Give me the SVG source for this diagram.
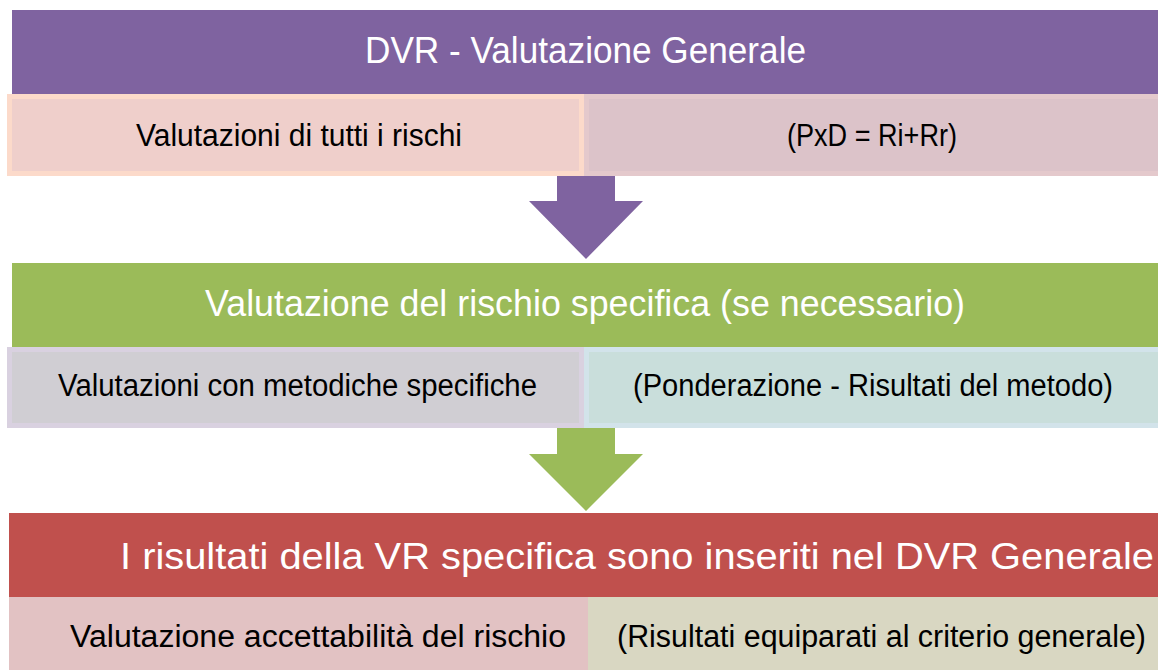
<svg xmlns="http://www.w3.org/2000/svg" width="1158" height="670" viewBox="0 0 1158 670">
<style>
text { font-family: "Liberation Sans", Arial, sans-serif; }
.title { fill: #FFFFFF; font-size: 37px; }
.cell { fill: #000000; font-size: 31px; }
.purple { fill: #7F63A0; }
.green { fill: #9BBB59; }
.red { fill: #C0504D; }
</style>
<rect width="1158" height="670" fill="#FFFFFF"/>
<g id="node-dvr-generale">
  <rect class="purple" x="12" y="10" width="1146" height="84"/>
  <text class="title" x="365" y="63" textLength="441" lengthAdjust="spacingAndGlyphs">DVR - Valutazione Generale</text>
</g>
<g id="node-valutazioni-tutti">
  <rect x="9.5" y="96.5" width="572" height="77" fill="#EFCFCB" stroke="#FCDACA" stroke-width="5"/>
  <text class="cell" x="136" y="146" textLength="326" lengthAdjust="spacingAndGlyphs">Valutazioni di tutti i rischi</text>
</g>
<g id="node-pxd">
  <rect x="586.5" y="96.5" width="575" height="77" fill="#DCC3C9" stroke="#E4C9CC" stroke-width="5"/>
  <text class="cell" x="787" y="146" textLength="170" lengthAdjust="spacingAndGlyphs">(PxD = Ri+Rr)</text>
</g>
<g id="node-vr-specifica">
  <rect class="green" x="12" y="263" width="1146" height="84"/>
  <text class="title" x="205" y="316" textLength="760" lengthAdjust="spacingAndGlyphs">Valutazione del rischio specifica (se necessario)</text>
</g>
<g id="node-metodiche">
  <rect x="9.5" y="349.5" width="572" height="76" fill="#D0CED3" stroke="#D9D1E0" stroke-width="5"/>
  <text class="cell" x="58" y="396" textLength="479" lengthAdjust="spacingAndGlyphs">Valutazioni con metodiche specifiche</text>
</g>
<g id="node-ponderazione">
  <rect x="586.5" y="349.5" width="575" height="76" fill="#C9DEDB" stroke="#D2E3EA" stroke-width="5"/>
  <text class="cell" x="633" y="396" textLength="480" lengthAdjust="spacingAndGlyphs">(Ponderazione - Risultati del metodo)</text>
</g>
<g id="node-risultati-inseriti">
  <rect class="red" x="9" y="513" width="1149" height="84"/>
  <text class="title" x="120" y="569" textLength="1034" lengthAdjust="spacingAndGlyphs">I risultati della VR specifica sono inseriti nel DVR Generale</text>
</g>
<g id="node-accettabilita">
  <rect x="9" y="597" width="579" height="73" fill="#E2C2C3"/>
  <text class="cell" x="70" y="647" textLength="496" lengthAdjust="spacingAndGlyphs">Valutazione accettabilità del rischio</text>
</g>
<g id="node-equiparati">
  <rect x="588" y="597" width="570" height="73" fill="#D9D7C2"/>
  <text class="cell" x="617" y="647" textLength="529" lengthAdjust="spacingAndGlyphs">(Risultati equiparati al criterio generale)</text>
</g>
<g id="connectors">
  <polygon class="purple" points="557,176 615,176 615,201 643,201 586,259 529,201 557,201"/>
  <polygon class="green" points="557,428 615,428 615,454 643,454 586,511 529,454 557,454"/>
</g>
</svg>
